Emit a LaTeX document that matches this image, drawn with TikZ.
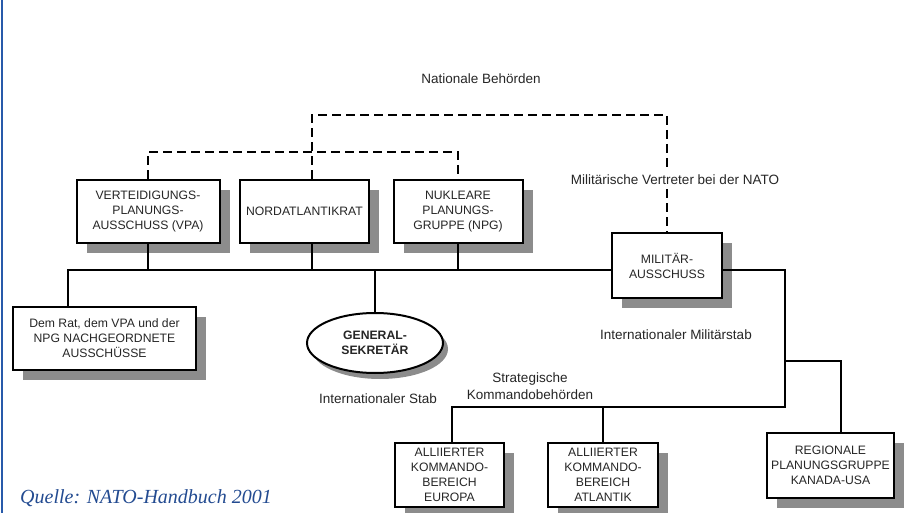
\documentclass[tikz,border=0pt]{standalone}
\usepackage{fontspec}
\setmainfont{Liberation Sans}
\newfontfamily\quellefont{Liberation Serif}
\usetikzlibrary{shadows,shapes.geometric}
\definecolor{shadowgray}{RGB}{140,140,140}
\definecolor{quelleblue}{RGB}{35,75,145}
\definecolor{borderblue}{RGB}{40,90,170}
\begin{document}
\begin{tikzpicture}[x=1pt,y=-1pt,
  every node/.style={font=\fontsize{12.2}{15}\selectfont, text=black!85, inner sep=0pt},
  orgbox/.style={draw=black, line width=2pt, fill=white, align=center,
    drop shadow={shadow xshift=10pt, shadow yshift=-10pt, fill=shadowgray, opacity=1}},
  orgell/.style={ellipse, draw=black, line width=2pt, fill=white, align=center,
    minimum width=136pt, minimum height=60pt,
    drop shadow={shadow xshift=5pt, shadow yshift=-6pt, fill=shadowgray, opacity=1}},
  conn/.style={draw=black, line width=2pt},
  dashline/.style={draw=black, line width=2.2pt, dash pattern=on 9pt off 5pt},
  lbl/.style={align=center, font=\fontsize{13.5}{17}\selectfont}
]
\useasboundingbox (0,0) rectangle (908,513);
\fill[white] (0,0) rectangle (908,513);
\draw[borderblue, line width=2pt] (2,0) -- (2,513);

% boxes
\node[orgbox, minimum width=143pt, minimum height=63pt] (VPA) at (148,211.5) {VERTEIDIGUNGS-\\PLANUNGS-\\AUSSCHUSS (VPA)};
\node[orgbox, minimum width=129pt, minimum height=63pt] (NAR) at (304.5,211.5) {NORDATLANTIKRAT};
\node[orgbox, minimum width=129pt, minimum height=63pt] (NPG) at (458,211.5) {NUKLEARE\\PLANUNGS-\\GRUPPE (NPG)};
\node[orgbox, minimum width=110pt, minimum height=65pt] (MIL) at (667,265.5) {MILITÄR-\\AUSSCHUSS};
\node[orgbox, minimum width=183pt, minimum height=63pt] (DEM) at (104.5,338.5) {Dem Rat, dem VPA und der\\NPG NACHGEORDNETE\\AUSSCHÜSSE};
\node[orgell] (GEN) at (375,343) {\bfseries GENERAL-\\\bfseries SEKRETÄR};
\node[orgbox, minimum width=109pt, minimum height=64pt] (EUR) at (449.5,475) {ALLIIERTER\\KOMMANDO-\\BEREICH\\EUROPA};
\node[orgbox, minimum width=110pt, minimum height=64pt] (ATL) at (603,475) {ALLIIERTER\\KOMMANDO-\\BEREICH\\ATLANTIK};
\node[orgbox, minimum width=127pt, minimum height=65pt] (REG) at (830.5,465.5) {REGIONALE\\PLANUNGSGRUPPE\\KANADA-USA};

% labels
\node[lbl] (nb) at (481,79) {Nationale Behörden};
\node[lbl, inner sep=4pt] (mvl) at (675,180) {Militärische Vertreter bei der NATO};
\node[lbl] (ims) at (676,335) {Internationaler Militärstab};
\node[lbl] (skb) at (530,386) {Strategische\\Kommandobehörden};
\node[lbl] (ist) at (378,399) {Internationaler Stab};
\node[anchor=base west, font=\quellefont\itshape\fontsize{20}{24}\selectfont, text=quelleblue] (q) at (20,503) {Quelle: NATO-Handbuch 2001};

% dashed lines
\coordinate (nx) at (312,115);
\draw[dashline] ([xshift=7.5pt]NAR.north) -- (nx) -- (MIL.north |- nx) -- (MIL.north |- mvl.north);
\draw[dashline] (MIL.north |- mvl.south) -- (MIL.north);
\coordinate (dl) at (148,152);
\draw[dashline] (VPA.north) -- (VPA.north |- dl) -- (NPG.north |- dl) -- (NPG.north);

% solid connectors
\coordinate (bl) at (68,270);
\draw[conn] (DEM.north -| bl) -- (bl) -- (bl -| MIL.west);
\draw[conn] (VPA.south) -- (VPA.south |- bl);
\draw[conn] ([xshift=7.5pt]NAR.south) -- ([xshift=7.5pt]NAR.south |- bl);
\draw[conn] (NPG.south) -- (NPG.south |- bl);
\draw[conn] (GEN.north) -- (GEN.north |- bl);
\coordinate (br) at (785,270);
\coordinate (bb) at (785,407);
\draw[conn] (MIL.east |- br) -- (br) -- (bb) -- ([xshift=2.5pt]EUR.north |- bb) -- ([xshift=2.5pt]EUR.north);
\draw[conn] (ATL.north |- bb) -- (ATL.north);
\coordinate (rb) at (785,361);
\coordinate (rr) at (841,361);
\draw[conn] (rb) -- (rr) -- (rr |- REG.north);
\end{tikzpicture}
\end{document}
